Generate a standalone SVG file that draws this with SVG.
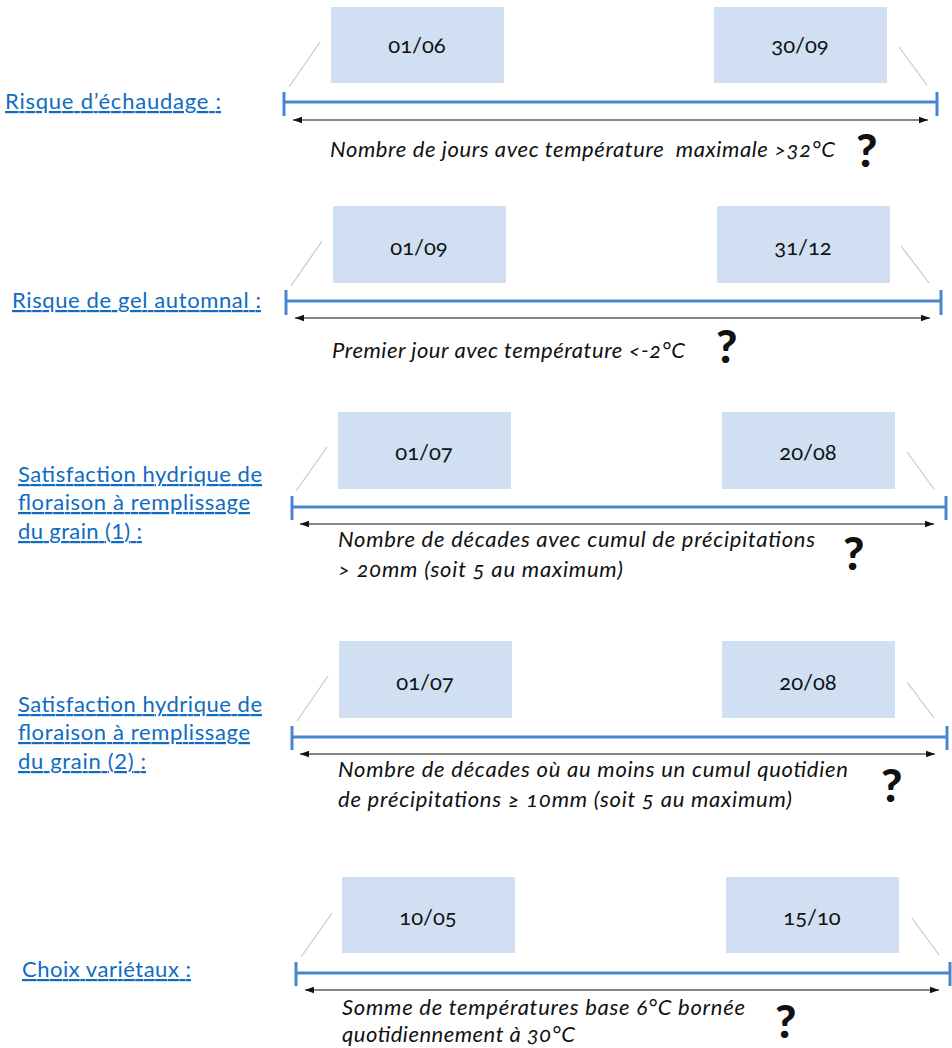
<svg xmlns="http://www.w3.org/2000/svg" width="952" height="1048" viewBox="0 0 952 1048">
<style>
.bg{fill:#ffffff}
.box{fill:#D0DFF1}
.date{font-family:Lato,"Open Sans","Liberation Sans",sans-serif;font-size:22px;fill:#111;text-anchor:middle;font-variant-numeric:oldstyle-nums}
.lbl{font-family:Lato,"Open Sans","Liberation Sans",sans-serif;font-size:22px;fill:#0F6CC0;text-decoration:underline}
.desc{font-family:Lato,"Open Sans","Liberation Sans",sans-serif;font-size:22px;font-style:italic;fill:#111;font-variant-numeric:oldstyle-nums}
.q{font-family:Lato,"Liberation Sans",sans-serif;font-size:46px;font-weight:900;fill:#111}
.tl{stroke:#4A86D0;stroke-width:3;fill:none}
.tick{stroke:#4A86D0;stroke-width:3}
.lead{stroke:#C8C8C8;stroke-width:1.2}
.arr{stroke:#111;stroke-width:1;marker-start:url(#ah);marker-end:url(#ah)}
</style>
<defs>
<marker id="ah" markerUnits="userSpaceOnUse" markerWidth="10" markerHeight="8" refX="9" refY="4" orient="auto-start-reverse">
<path d="M0,0.8 L9,4 L0,7.2 Z" fill="#111"/>
</marker>
</defs>
<rect class="bg" x="0" y="0" width="952" height="1048"/>

<!-- Row 1 -->
<g id="row1">
<text id="label1" class="lbl" x="5" y="109" textLength="216" lengthAdjust="spacing">Risque d’échaudage :</text>
<g id="r1-start"><rect class="box" x="331" y="7" width="173" height="76"/><text class="date" x="417" y="53">01/06</text></g>
<g id="r1-end"><rect class="box" x="714" y="7" width="173" height="76"/><text class="date" x="800" y="53">30/09</text></g>
<g id="r1-timeline"><line class="tl" x1="284" y1="102" x2="937" y2="102"/><line class="tick" x1="284" y1="92" x2="284" y2="116"/><line class="tick" x1="937" y1="92" x2="937" y2="116"/></g>
<text id="r1-desc" class="desc" x="330" y="157" textLength="505" lengthAdjust="spacing" xml:space="preserve">Nombre de jours avec température  maximale &gt;32°C</text>
<text id="r1-q" class="q" x="856" y="167">?</text>
</g>

<!-- Row 2 -->
<g id="row2">
<text id="label2" class="lbl" x="12" y="308" textLength="249" lengthAdjust="spacing">Risque de gel automnal :</text>
<g id="r2-start"><rect class="box" x="333" y="206" width="173" height="77"/><text class="date" x="419" y="255">01/09</text></g>
<g id="r2-end"><rect class="box" x="717" y="206" width="173" height="77"/><text class="date" x="803" y="255">31/12</text></g>
<g id="r2-timeline"><line class="tl" x1="286" y1="301" x2="941" y2="301"/><line class="tick" x1="286" y1="290" x2="286" y2="315"/><line class="tick" x1="941" y1="290" x2="941" y2="315"/></g>
<text id="r2-desc" class="desc" x="332" y="358" textLength="353" lengthAdjust="spacing">Premier jour avec température &lt;-2°C</text>
<text id="r2-q" class="q" x="716" y="363">?</text>
</g>

<!-- Row 3 -->
<g id="row3">
<text id="label3" class="lbl"><tspan x="18" y="482" textLength="244" lengthAdjust="spacing">Satisfaction hydrique de</tspan><tspan x="18" y="510" textLength="232" lengthAdjust="spacing">floraison à remplissage</tspan><tspan x="18" y="539" textLength="124" lengthAdjust="spacing">du grain (1) :</tspan></text>
<g id="r3-start"><rect class="box" x="338" y="412" width="173" height="77"/><text class="date" x="424" y="460">01/07</text></g>
<g id="r3-end"><rect class="box" x="722" y="412" width="173" height="77"/><text class="date" x="808" y="460">20/08</text></g>
<g id="r3-timeline"><line class="tl" x1="292" y1="507" x2="946" y2="507"/><line class="tick" x1="292" y1="496" x2="292" y2="520"/><line class="tick" x1="946" y1="496" x2="946" y2="520"/></g>
<text id="r3-desc" class="desc"><tspan x="338" y="547" textLength="477" lengthAdjust="spacing">Nombre de décades avec cumul de précipitations</tspan><tspan x="338" y="577" textLength="285" lengthAdjust="spacing">&gt; 20mm (soit 5 au maximum)</tspan></text>
<text id="r3-q" class="q" x="843" y="570">?</text>
</g>

<!-- Row 4 -->
<g id="row4">
<text id="label4" class="lbl"><tspan x="18" y="712" textLength="244" lengthAdjust="spacing">Satisfaction hydrique de</tspan><tspan x="18" y="740" textLength="232" lengthAdjust="spacing">floraison à remplissage</tspan><tspan x="18" y="769" textLength="128" lengthAdjust="spacing">du grain (2) :</tspan></text>
<g id="r4-start"><rect class="box" x="339" y="641" width="173" height="77"/><text class="date" x="425" y="690">01/07</text></g>
<g id="r4-end"><rect class="box" x="722" y="641" width="173" height="77"/><text class="date" x="808" y="690">20/08</text></g>
<g id="r4-timeline"><line class="tl" x1="292" y1="737" x2="947" y2="737"/><line class="tick" x1="292" y1="726" x2="292" y2="750"/><line class="tick" x1="947" y1="726" x2="947" y2="750"/></g>
<text id="r4-desc" class="desc"><tspan x="338" y="777" textLength="510" lengthAdjust="spacing">Nombre de décades où au moins un cumul quotidien</tspan><tspan x="338" y="807" textLength="454" lengthAdjust="spacing">de précipitations ≥ 10mm (soit 5 au maximum)</tspan></text>
<text id="r4-q" class="q" x="881" y="802">?</text>
</g>

<!-- Row 5 -->
<g id="row5">
<text id="label5" class="lbl" x="22" y="977" textLength="169" lengthAdjust="spacing">Choix variétaux :</text>
<g id="r5-start"><rect class="box" x="342" y="877" width="173" height="76"/><text class="date" x="428" y="925">10/05</text></g>
<g id="r5-end"><rect class="box" x="726" y="877" width="173" height="76"/><text class="date" x="812" y="925">15/10</text></g>
<g id="r5-timeline"><line class="tl" x1="296" y1="973" x2="950" y2="973"/><line class="tick" x1="296" y1="962" x2="296" y2="986"/><line class="tick" x1="950" y1="962" x2="950" y2="986"/></g>
<text id="r5-desc" class="desc"><tspan x="342" y="1015" textLength="403" lengthAdjust="spacing">Somme de températures base 6°C bornée</tspan><tspan x="342" y="1042" textLength="233" lengthAdjust="spacing">quotidiennement à 30°C</tspan></text>
<text id="r5-q" class="q" x="775" y="1038">?</text>
</g>

<!-- Connectors -->
<g id="connectors">
<line class="lead" x1="320" y1="42" x2="289" y2="87"/>
<line class="lead" x1="899" y1="47" x2="927" y2="85"/>
<line class="arr" x1="293" y1="120" x2="928" y2="120"/>
<line class="lead" x1="322" y1="241" x2="291" y2="286"/>
<line class="lead" x1="901" y1="246" x2="929" y2="283"/>
<line class="arr" x1="295" y1="318" x2="930" y2="318"/>
<line class="lead" x1="327" y1="447" x2="296" y2="491"/>
<line class="lead" x1="907" y1="452" x2="934" y2="489"/>
<line class="arr" x1="300" y1="524" x2="934" y2="524"/>
<line class="lead" x1="328" y1="676" x2="297" y2="721"/>
<line class="lead" x1="907" y1="682" x2="934" y2="718"/>
<line class="arr" x1="300" y1="754" x2="935" y2="754"/>
<line class="lead" x1="332" y1="913" x2="301" y2="957"/>
<line class="lead" x1="912" y1="918" x2="939" y2="955"/>
<line class="arr" x1="305" y1="990" x2="939" y2="990"/>
</g>
</svg>
